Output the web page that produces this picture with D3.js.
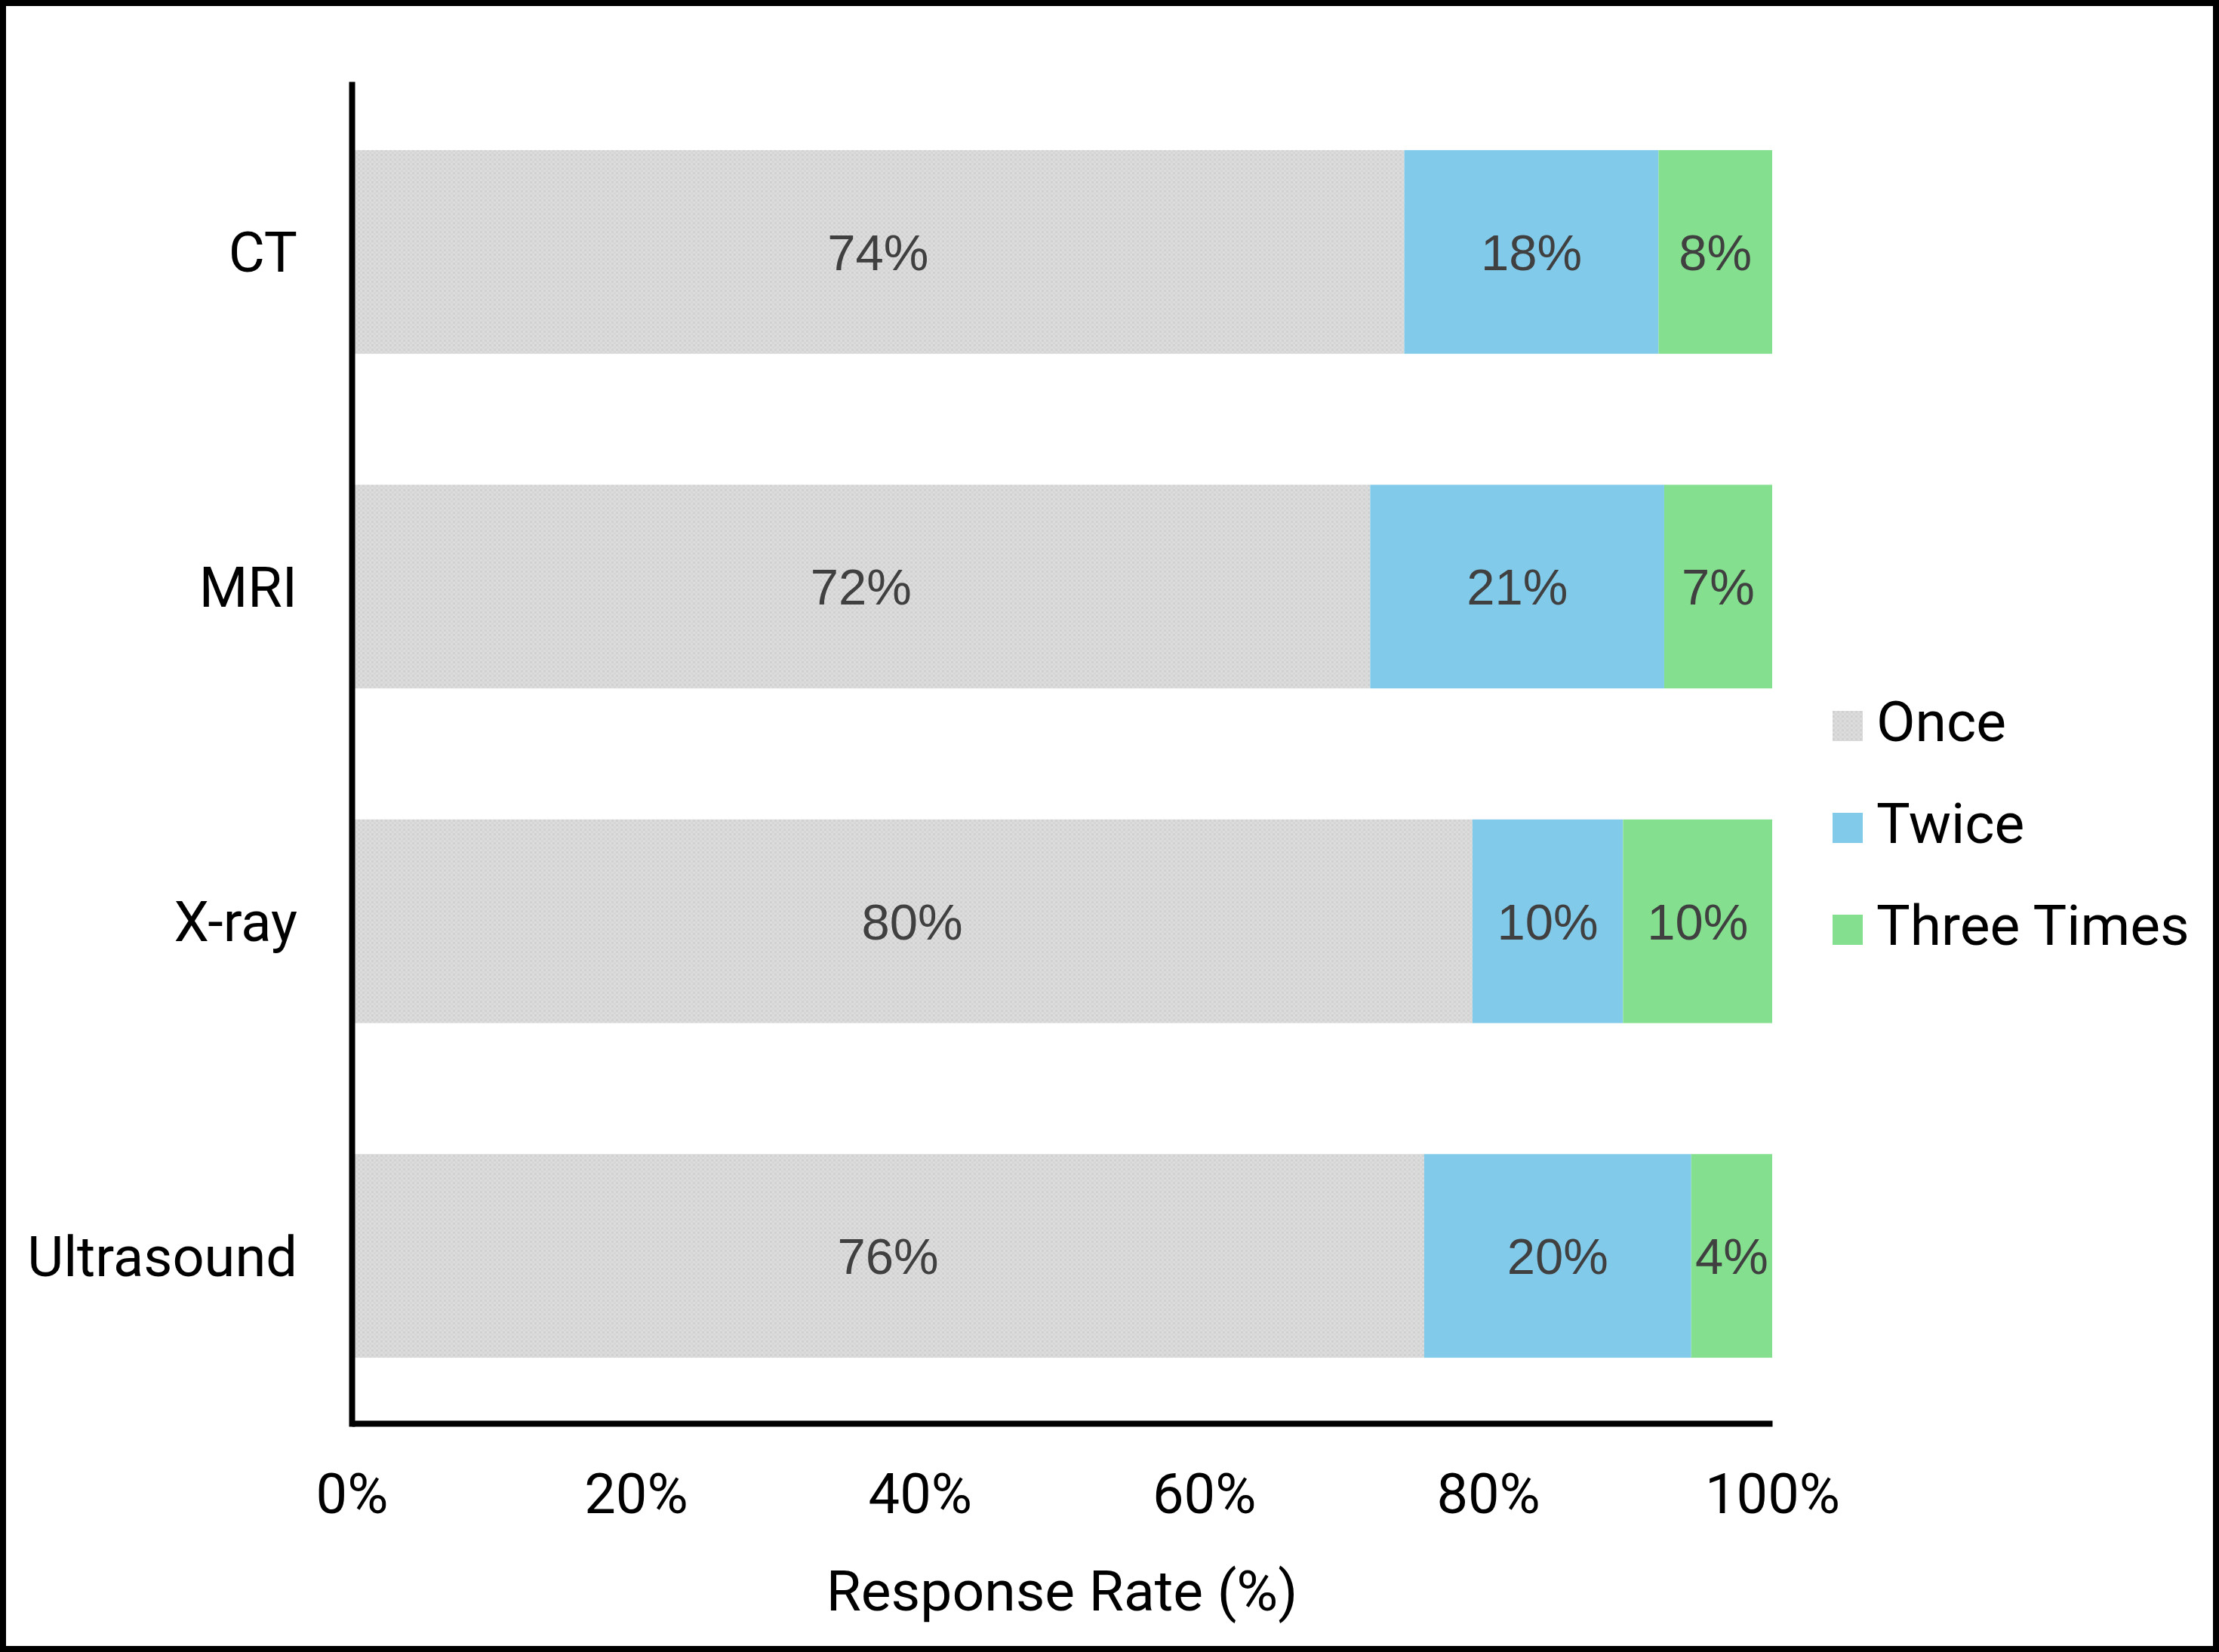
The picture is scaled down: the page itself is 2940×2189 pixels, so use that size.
<!DOCTYPE html>
<html>
<head>
<meta charset="utf-8">
<script src="https://cdn.jsdelivr.net/npm/d3@7"></script>
<style>
  html, body { margin: 0; padding: 0; background: #fff; }
  svg { display: block; }
</style>
</head>
<body>
<svg id="chart" width="2940" height="2189"></svg>
<script>
// ---- data ----
const categories = ["CT", "MRI", "X-ray", "Ultrasound"];
const seriesNames = ["Once", "Twice", "Three Times"];
// segment shares (fractions) as drawn in the bars
const onceValues  = [0.741, 0.717, 0.789, 0.755];
const twiceValues = [0.179, 0.207, 0.106, 0.188];
const threeValues = [0.080, 0.076, 0.105, 0.057];
// value labels as printed on the segments
const onceLabels  = ["74%", "72%", "80%", "76%"];
const twiceLabels = ["18%", "21%", "10%", "20%"];
const threeLabels = ["8%", "7%", "10%", "4%"];
const xTicks = [0, 0.2, 0.4, 0.6, 0.8, 1.0];
const xTickLabels = ["0%", "20%", "40%", "60%", "80%", "100%"];
const xTitle = "Response Rate (%)";

const colors = ["url(#grayTex)", "#82caea", "#84e08f"];

// ---- setup ----
const W = 2940, H = 2189;
const svg = d3.select("#chart");

// subtle gray texture like the reference
const defs = svg.append("defs");
const pat = defs.append("pattern").attr("id", "grayTex")
  .attr("patternUnits", "userSpaceOnUse").attr("width", 6).attr("height", 6);
pat.append("rect").attr("width", 6).attr("height", 6).attr("fill", "#dcdcdc");
pat.append("rect").attr("x", 0).attr("y", 0).attr("width", 3).attr("height", 3).attr("fill", "#d1d1d1");
pat.append("rect").attr("x", 3).attr("y", 3).attr("width", 3).attr("height", 3).attr("fill", "#d6d6d6");

svg.append("rect").attr("x", 0).attr("y", 0).attr("width", W).attr("height", H).attr("fill", "#fff");

const x = d3.scaleLinear().domain([0, 1]).range([466, 2348]);
const y = d3.scaleBand().domain(categories).range([112, 1886])
  .paddingInner(0.3915).paddingOuter(0.196);

// stacked data
const rows = categories.map((c, i) => ({
  cat: c, Once: onceValues[i], Twice: twiceValues[i], "Three Times": threeValues[i]
}));
const labelsBySeries = [onceLabels, twiceLabels, threeLabels];
const stacked = d3.stack().keys(seriesNames)(rows);

const g = svg.append("g");
stacked.forEach((layer, si) => {
  const lg = g.append("g");
  lg.selectAll("rect").data(layer).join("rect")
    .attr("x", d => x(d[0]))
    .attr("y", d => y(d.data.cat))
    .attr("width", d => x(d[1]) - x(d[0]))
    .attr("height", y.bandwidth())
    .attr("fill", colors[si]);
  lg.selectAll("text").data(layer).join("text")
    .attr("x", d => (x(d[0]) + x(d[1])) / 2)
    .attr("y", d => y(d.data.cat) + y.bandwidth() / 2)
    .attr("dy", "0.36em")
    .attr("text-anchor", "middle")
    .attr("font-family", "'Liberation Sans', Arial, sans-serif")
    .attr("font-size", 67)
    .attr("fill", "#404040")
    .text((d, i) => labelsBySeries[si][i]);
});

// axes
const xAxis = svg.append("g").attr("transform", `translate(0,1886)`)
  .call(d3.axisBottom(x).tickValues(xTicks).tickFormat((d, i) => xTickLabels[i]).tickSize(0).tickSizeOuter(0));
xAxis.select(".domain").attr("stroke", "#000").attr("stroke-width", 8);
xAxis.selectAll(".tick text")
  .attr("y", 119).attr("dy", null)
  .attr("font-family", "Roboto, sans-serif").attr("font-size", 74).attr("fill", "#000");

const yAxis = svg.append("g").attr("transform", `translate(466,0)`)
  .call(d3.axisLeft(y).tickSize(0).tickSizeOuter(0).tickPadding(72));
yAxis.select(".domain").attr("stroke", "#000").attr("stroke-width", 8).attr("stroke-linecap", "square");
yAxis.selectAll(".tick text")
  .attr("dy", "0.36em")
  .attr("font-family", "Roboto, sans-serif").attr("font-size", 74).attr("fill", "#000");

// axis title
svg.append("text")
  .attr("x", (x.range()[0] + x.range()[1]) / 2)
  .attr("y", 2134)
  .attr("text-anchor", "middle")
  .attr("font-family", "Roboto, sans-serif").attr("font-size", 75).attr("fill", "#000")
  .text(xTitle);

// legend
const legend = svg.append("g").attr("transform", "translate(2428,942)");
const li = legend.selectAll("g").data(seriesNames).join("g")
  .attr("transform", (d, i) => `translate(0,${i * 135})`);
li.append("rect").attr("width", 40).attr("height", 40).attr("fill", (d, i) => colors[i]);
li.append("text").attr("x", 58).attr("y", 40)
  .attr("font-family", "Roboto, sans-serif").attr("font-size", 75).attr("fill", "#000")
  .text(d => d);

// outer frame
svg.append("rect").attr("x", 4).attr("y", 4).attr("width", W - 8).attr("height", H - 8)
  .attr("fill", "none").attr("stroke", "#000").attr("stroke-width", 8);
</script>
</body>
</html>
